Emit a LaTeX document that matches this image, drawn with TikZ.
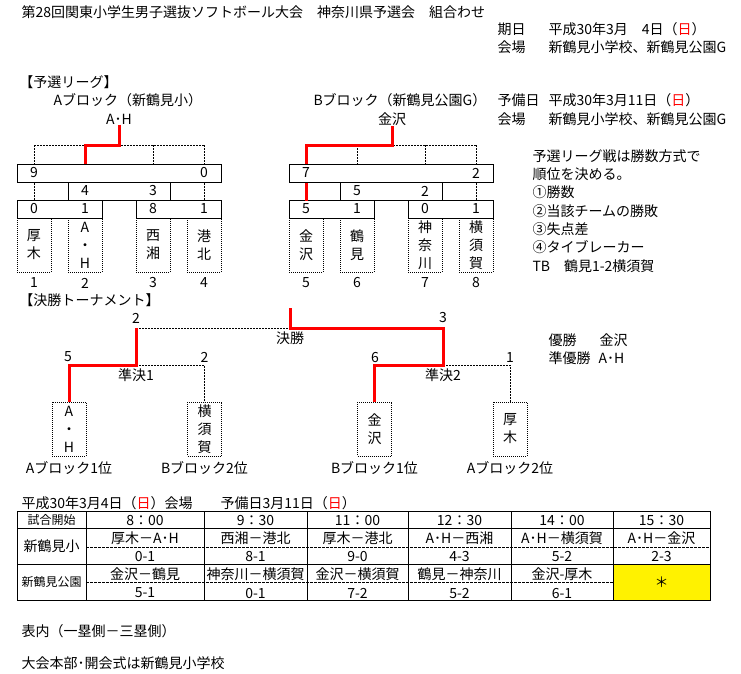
\documentclass[tikz,border=0pt]{standalone}
\usepackage{fontspec}
\setmainfont{Noto Sans CJK JP}
\usetikzlibrary{calc}
\tikzset {
    txt/.style = {inner sep = 0pt, font = \fontsize{14pt}{17pt}\selectfont},
    lft/.style = {txt, anchor = west},
    small/.style = {inner sep = 0pt, font = \fontsize{12pt}{14pt}\selectfont},
    scorebox/.style = {draw, inner sep = 0pt, minimum height = 18pt},
    teambox/.style = {
        draw, dash pattern = on 1pt off 1pt, inner sep = 0pt,
        minimum width = 34pt, minimum height = 54pt, align = center,
        font = \fontsize{14pt}{18pt}\selectfont
    },
    dotline/.style = {dash pattern = on 2pt off 1pt},
    dashline/.style = {dash pattern = on 3pt off 1pt},
    winline/.style = {draw = red, line width = 3pt},
}

\begin{document}
\begin{tikzpicture}[x = 1pt, y = -1pt, line width = 1pt]
    \useasboundingbox (0, 0) rectangle (741, 673);
    % header
    \node (title) [lft] at (21, 12) {第28回関東小学生男子選抜ソフトボール大会　神奈川県予選会　組合わせ};
    \node (d1) [lft] at (497, 29) {期日};
    \node (d2) [lft] at (548, 29) {平成30年3月　4日（\textcolor{red}{日}）};
    \node (v1) [lft] at (497, 47) {会場};
    \node (v2) [lft] at (548, 47) {新鶴見小学校、新鶴見公園G};
    \node (p1) [lft] at (497, 100) {予備日};
    \node (p2) [lft] at (548, 100) {平成30年3月11日（\textcolor{red}{日}）};
    \node (v3) [lft] at (497, 119) {会場};
    \node (v4) [lft] at (548, 119) {新鶴見小学校、新鶴見公園G};
    \node (lg) [lft] at (19, 82) {【予選リーグ】};
    \node (bA) [lft] at (53, 100) {Aブロック（新鶴見小）};
    \node (bB) [lft] at (313, 100) {Bブロック（新鶴見公園G）};
    \coordinate (rowN) at (0, 283);

    % block A
    \node (topA) [txt] at (119, 119) {A･H};
    \node (a1) [scorebox, minimum width = 204pt] at (119, 173) {};
    \node (a2) [scorebox, minimum width = 102pt] at (119, 191) {};
    \node (a3) [scorebox, minimum width = 85pt] at (59.5, 209) {};
    \node (a4) [scorebox, minimum width = 85pt] at (178.5, 209) {};
    \node (t1) [teambox] at (34, 245) {厚\\木};
    \node (t2) [teambox] at (85, 245) {A\\・\\H};
    \node (t3) [teambox] at (153, 245) {西\\湘};
    \node (t4) [teambox] at (204, 245) {港\\北};
    \coordinate (jA) at (34, 145);
    \draw [dotline] (t1 |- jA) -- (t4 |- jA);
    \foreach \t in {t1, t3, t4}
        \draw [dotline] (\t |- jA) -- (\t |- a1.north);
    \foreach \t in {t1, t4}
        \draw [dotline] (\t |- a1.south) -- (\t |- a2.south);
    \draw [winline] (topA.south) |- (t2 |- jA) -- (t2 |- a1.north);
    \node (sa1) [txt] at (t1 |- a1) {9};
    \node (sa2) [txt] at (t4 |- a1) {0};
    \node (sa3) [txt] at (t2 |- a2) {4};
    \node (sa4) [txt] at (t3 |- a2) {3};
    \foreach \t/\s in {t1/0, t2/1}
        \node (s\t) [txt] at (\t |- a3) {\s};
    \foreach \t/\s in {t3/8, t4/1}
        \node (s\t) [txt] at (\t |- a4) {\s};

    % block B
    \node (topB) [txt] at (392, 119) {金沢};
    \node (b1) [scorebox, minimum width = 204pt] at (391, 173) {};
    \node (b2) [scorebox, minimum width = 102pt] at (391, 191) {};
    \node (b3) [scorebox, minimum width = 85pt] at (331.5, 209) {};
    \node (b4) [scorebox, minimum width = 85pt] at (450.5, 209) {};
    \node (t5) [teambox] at (306, 245) {金\\沢};
    \node (t6) [teambox] at (357, 245) {鶴\\見};
    \node (t7) [teambox] at (425, 245) {神\\奈\\川};
    \node (t8) [teambox] at (476, 245) {横\\須\\賀};
    \coordinate (jB) at (306, 145);
    \draw [dotline] (t5 |- jB) -- (t8 |- jB);
    \foreach \t in {t6, t7, t8}
        \draw [dotline] (\t |- jB) -- (\t |- b1.north);
    \draw [dotline] (t8 |- b1.south) -- (t8 |- b2.south);
    \draw [winline] (topB.south) |- (t5 |- jB) -- (t5 |- b1.north);
    \draw [winline] (t5 |- b1.south) -- (t5 |- b2.south);
    \node (sb1) [txt] at (t5 |- b1) {7};
    \node (sb2) [txt] at (t8 |- b1) {2};
    \node (sb3) [txt] at (t6 |- b2) {5};
    \node (sb4) [txt] at (t7 |- b2) {2};
    \foreach \t/\s in {t5/5, t6/1}
        \node (s\t) [txt] at (\t |- b3) {\s};
    \foreach \t/\s in {t7/0, t8/1}
        \node (s\t) [txt] at (\t |- b4) {\s};
    \foreach \i in {1, ..., 8}
        \node (n\i) [txt] at (t\i |- rowN) {\i};

    % rules
    \foreach \s [count = \i] in {予選リーグ戦は勝数方式で, 順位を決める。, ①勝数,
        ②当該チームの勝敗, ③失点差, ④タイブレーカー, TB　鶴見1-2横須賀}
        \node (rule\i) [lft] at (532, 137.7 + 18.3 * \i) {\s};

    % final tournament
    \node (ft) [lft] at (19, 300) {【決勝トーナメント】};
    \node (f1) [teambox] at (69, 429) {A\\・\\H};
    \node (f2) [teambox] at (204.5, 429) {横\\須\\賀};
    \node (f3) [teambox] at (374.5, 429) {金\\沢};
    \node (f4) [teambox] at (510, 429) {厚\\木};
    \coordinate (sf1) at (136, 365);
    \coordinate (sf2) at (443, 365);
    \coordinate (fin) at (290, 328);
    \draw [dotline] (sf1) -| (f2.north);
    \draw [dotline] (sf2) -| (f4.north);
    \draw [dotline] (sf1 |- fin) -- (fin);
    \draw [winline] (f1.north) |- (sf1) -- (sf1 |- fin);
    \draw [winline] (f3.north) |- (sf2) -- (sf2 |- fin) -- (fin) -- ++(0, -20);
    \node (fs1) [txt] at (136, 318) {2};
    \node (fs2) [txt] at (443, 318) {3};
    \node (fl) [txt] at (290, 338) {決勝};
    \node (ss1) [txt] at (68, 357) {5};
    \node (ss2) [txt] at (204.5, 357) {2};
    \node (ss3) [txt] at (375, 357) {6};
    \node (ss4) [txt] at (510, 357) {1};
    \node (sl1) [txt] at (136, 375) {準決1};
    \node (sl2) [txt] at (443, 375) {準決2};
    \node (fb1) [txt] at (f1 |- 0, 468) {Aブロック1位};
    \node (fb2) [txt] at (f2 |- 0, 468) {Bブロック2位};
    \node (fb3) [txt] at (f3 |- 0, 468) {Bブロック1位};
    \node (fb4) [txt] at (f4 |- 0, 468) {Aブロック2位};
    \node (w1) [lft] at (548, 340) {優勝};
    \node (w2) [lft] at (599, 340) {金沢};
    \node (w3) [lft] at (548, 358) {準優勝};
    \node (w4) [lft] at (598, 358) {A･H};

    % schedule
    \node (cap) [lft] at (21, 503) {平成30年3月4日（\textcolor{red}{日}）会場　　予備日3月11日（\textcolor{red}{日}）};
    \fill [yellow] (613, 564) rectangle (710, 600);
    \draw (17, 511) rectangle (710, 600);
    \foreach \y in {528, 564}
        \draw (17, \y) -- (710, \y);
    \foreach \x in {86, 204, 307, 408, 511, 613}
        \draw (\x, 511) -- (\x, 600);
    \draw [dashline] (86, 547) -- (710, 547);
    \draw [dashline] (86, 582) -- (613, 582);
    \node (h0) [small] at (51.5, 520) {試合開始};
    \node (h1) [txt] at (51.5, 546) {新鶴見小};
    \node (h2) [small] at (51.5, 582) {新鶴見公園};
    \foreach \c/\t/\ma/\sa/\mb/\sb [count = \i] in {
        145/8：00/厚木－A･H/0-1/金沢－鶴見/5-1,
        255.5/9：30/西湘－港北/8-1/神奈川－横須賀/0-1,
        357.5/11：00/厚木－港北/9-0/金沢－横須賀/7-2,
        459.5/12：30/A･H－西湘/4-3/鶴見－神奈川/5-2,
        562/14：00/A･H－横須賀/5-2/金沢-厚木/6-1}
    {
        \node (tm\i) [txt] at (\c, 520) {\t};
        \node (ma\i) [txt] at (\c, 538) {\ma};
        \node (sa\i) [txt] at (\c, 556) {\sa};
        \node (mb\i) [txt] at (\c, 574) {\mb};
        \node (sc\i) [txt] at (\c, 593) {\sb};
    }
    \node (tm6) [txt] at (661.5, 520) {15：30};
    \node (ma6) [txt] at (661.5, 538) {A･H－金沢};
    \node (sa6) [txt] at (661.5, 556) {2-3};
    \node (mb6) [txt] at (661.5, 582) {＊};

    % notes
    \node (note1) [lft] at (21, 631) {表内（一塁側－三塁側）};
    \node (note2) [lft] at (21, 663) {大会本部･開会式は新鶴見小学校};
\end{tikzpicture}
\end{document}
